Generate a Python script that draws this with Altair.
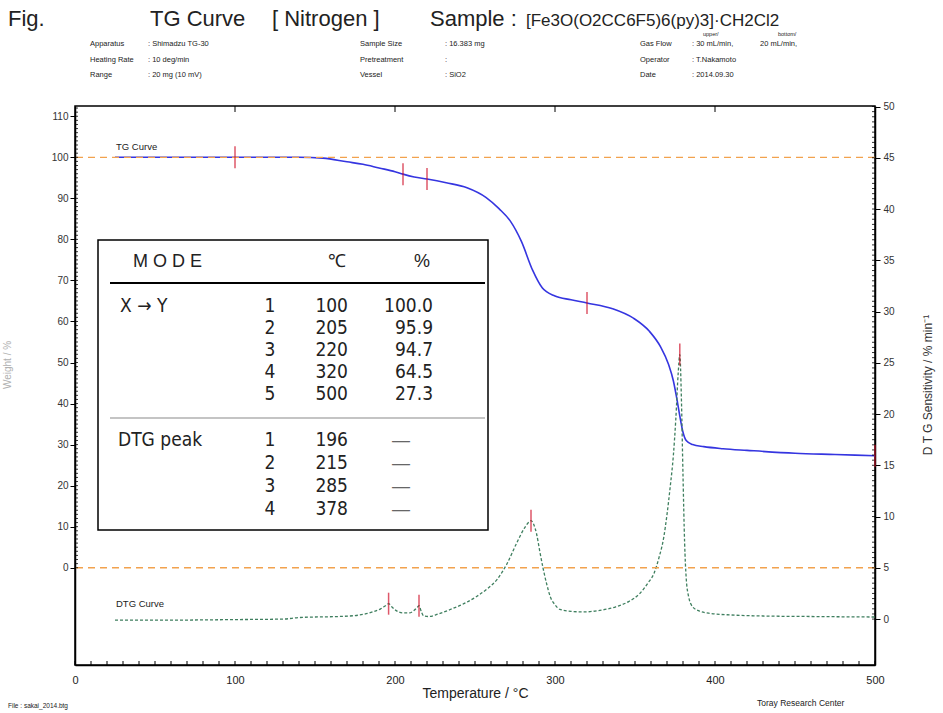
import altair as alt
import pandas as pd

# ---------------- data ----------------
tg_temp = [25, 60, 100, 140, 155, 170, 180, 190, 200, 205, 212, 220, 232, 245, 257, 265, 272, 279, 286, 292,
           300, 310, 320, 336, 349, 359, 366, 371, 374, 376, 378, 380, 382, 386, 393, 405, 420, 450, 475, 500]
tg_pct = [100, 100, 100, 100, 99.8, 98.9, 98.3, 97.4, 96.5, 95.9, 95.2, 94.7, 93.8, 92.6, 90.2, 87.5, 84.5, 79.5, 72.5, 68.2,
          66.2, 65.3, 64.5, 63.1, 60.8, 57.6, 53.8, 49.5, 45.5, 41.5, 37.0, 33.0, 31.0, 30.0, 29.5, 29.0, 28.6, 27.9, 27.6, 27.3]

dtg_temp = [25, 60, 100, 130, 140, 150, 165, 178, 186, 191, 194, 196, 198, 201, 205, 209, 212, 214, 215, 216.5,
            218, 221, 227, 234, 243, 251, 258, 264, 270, 276, 281, 284, 285, 286.5, 288.5, 290.5, 292.5, 295, 297, 300,
            303, 310, 318, 328, 338, 346, 353, 358, 362, 365, 368, 370, 372, 374, 375.5, 377, 378, 379, 380, 381,
            382, 383.5, 386, 390, 397, 410, 430, 460, 500]
dtg_val = [-0.1, -0.1, -0.05, 0.0, 0.15, 0.2, 0.25, 0.4, 0.7, 1.0, 1.3, 1.5, 1.2, 0.8, 0.6, 0.6, 0.85, 1.15, 1.3, 0.7,
           0.3, 0.25, 0.5, 0.9, 1.5, 2.2, 3.0, 3.9, 5.4, 7.4, 8.9, 9.5, 9.6, 9.3, 8.3, 6.6, 5.0, 3.3, 2.2, 1.4,
           0.95, 0.75, 0.7, 0.85, 1.2, 1.7, 2.5, 3.5, 4.5, 6.0, 8.0, 10.2, 12.9, 16.0, 19.5, 24.0, 25.8, 21.5, 14.0, 7.5,
           4.0, 2.2, 1.2, 0.8, 0.55, 0.4, 0.3, 0.25, 0.2]

mode_idx = [1, 2, 3, 4, 5]
mode_temp = [100, 205, 220, 320, 500]
mode_pct = [100.0, 95.9, 94.7, 64.5, 27.3]

peak_idx = [1, 2, 3, 4]
peak_temp = [196, 215, 285, 378]
peak_dtg = [1.5, 1.3, 9.6, 25.8]

x_ticks = [0, 100, 200, 300, 400, 500]
left_ticks = [0, 10, 20, 30, 40, 50, 60, 70, 80, 90, 100, 110]
right_ticks = [0, 5, 10, 15, 20, 25, 30, 35, 40, 45, 50]
ref_lines = [100, 0]

x_minor = list(range(0, 501, 10))
left_minor = list(range(0, 113))
right_minor = [i / 2 for i in range(0, 101)]

info_left = [("Apparatus", ": Shimadzu TG-30"), ("Heating Rate", ": 10 deg/min"), ("Range", ": 20 mg (10 mV)")]
info_mid = [("Sample Size", ": 16.383 mg"), ("Pretreatment", ":"), ("Vessel", ": SiO2")]
info_right = [("Gas Flow", ": 30 mL/min,"), ("Operator", ": T.Nakamoto"), ("Date", ": 2014.09.30")]

# ---------------- layout ----------------
X0, Y0, W, H = 75, 106, 800, 559
FONT = "Liberation Sans"
NARROW = "Liberation Sans Narrow, DejaVu Sans Condensed, Liberation Sans"
XS = alt.Scale(domain=[0, 500], nice=False, zero=False)
LEFT = alt.Scale(domain=[-23.7, 112.5], nice=False, zero=False)
RIGHT = alt.Scale(domain=[-4.48, 50.05], nice=False, zero=False)

x_axis = alt.Axis(orient="bottom", values=x_ticks, title="Temperature / °C", ticks=False, labelPadding=9,
                  labelFlush=False, labelFontSize=11, titleFontSize=14, titlePadding=1, grid=False,
                  domainColor="black", domainWidth=1.5, labelColor="#222", titleColor="#222",
                  titleFontWeight="normal", labelFont=FONT, titleFont=FONT)
left_axis = alt.Axis(orient="left", values=left_ticks, title="", tickSize=5, labelPadding=2, labelFontSize=10,
                     labelFlush=False, grid=False, domainColor="black", domainWidth=1.5, tickColor="black",
                     labelColor="#333", labelFont=FONT)
right_axis = alt.Axis(orient="right", values=right_ticks, title="", tickSize=5, labelPadding=3, labelFontSize=10,
                      labelFlush=False, grid=False, domainColor="black", domainWidth=1.5, tickColor="black",
                      labelColor="#333", labelFont=FONT)

ONE = alt.Data(values=[{}])


def xenc():
    return alt.X("t:Q", scale=XS, axis=x_axis)


def txt(s, x, y, size, align="left", baseline="middle", font=FONT, color="#222", angle=0, weight="normal",
        line_height=0):
    kw = dict(text=s, align=align, baseline=baseline, fontSize=size, font=font, color=color, fontWeight=weight)
    if angle:
        kw["angle"] = angle
    if line_height:
        kw["lineHeight"] = line_height
        kw["lineBreak"] = "\n"
    return alt.Chart(ONE).mark_text(**kw).encode(x=alt.value(x - X0), y=alt.value(y - Y0))


def hline(x1, x2, y, color, width):
    return alt.Chart(ONE).mark_rule(color=color, strokeWidth=width).encode(
        x=alt.value(x1 - X0), x2=alt.value(x2 - X0), y=alt.value(y - Y0))


tg_df = pd.DataFrame({"t": tg_temp, "v": tg_pct})
dtg_df = pd.DataFrame({"t": dtg_temp, "v": dtg_val})

layers = []
# TG curve (left axis)
layers.append(alt.Chart(tg_df).mark_line(color="#3535e0", strokeWidth=1.6, interpolate="monotone").encode(
    x=xenc(), y=alt.Y("v:Q", scale=LEFT, axis=left_axis)))
# DTG curve (right axis)
layers.append(alt.Chart(dtg_df).mark_line(color="#3f7f5f", strokeWidth=1.3, strokeDash=[3, 2],
                                          interpolate="monotone").encode(
    x=xenc(), y=alt.Y("v:Q", scale=RIGHT, axis=right_axis)))
# reference dashed lines
layers.append(alt.Chart(pd.DataFrame({"v": ref_lines})).mark_rule(color="#f2a24e", strokeWidth=1.3,
                                                                 strokeDash=[7, 5]).encode(
    y=alt.Y("v:Q", scale=LEFT, axis=None)))
# minor ticks
layers.append(alt.Chart(pd.DataFrame({"t": x_minor})).mark_rule(color="black", strokeWidth=1).encode(
    x=xenc(), y=alt.value(H), y2=alt.value(H - 4)))
layers.append(alt.Chart(pd.DataFrame({"t": x_ticks[1:-1]})).mark_rule(color="black", strokeWidth=1).encode(
    x=xenc(), y=alt.value(0), y2=alt.value(6)))
layers.append(alt.Chart(pd.DataFrame({"v": left_minor})).mark_rule(color="black", strokeWidth=0.8).encode(
    y=alt.Y("v:Q", scale=LEFT, axis=None), x=alt.value(0), x2=alt.value(3)))
layers.append(alt.Chart(pd.DataFrame({"v": right_minor})).mark_rule(color="black", strokeWidth=0.8).encode(
    y=alt.Y("v:Q", scale=RIGHT, axis=None), x=alt.value(W - 3), x2=alt.value(W)))
# markers
layers.append(alt.Chart(pd.DataFrame({"t": mode_temp, "v": mode_pct})).mark_tick(
    color="#d0102a", thickness=1.5, size=22, orient="vertical").encode(
    x=xenc(), y=alt.Y("v:Q", scale=LEFT, axis=None)))
layers.append(alt.Chart(pd.DataFrame({"t": peak_temp, "v": peak_dtg})).mark_tick(
    color="#d0102a", thickness=1.5, size=22, orient="vertical").encode(
    x=xenc(), y=alt.Y("v:Q", scale=RIGHT, axis=None)))

# curve labels
layers.append(txt("TG Curve", 116, 147, 9.5))
layers.append(txt("DTG Curve", 116, 604, 9.5))

# table
layers.append(alt.Chart(ONE).mark_rect(fill="white", stroke="black", strokeWidth=1.5).encode(
    x=alt.value(98 - X0), x2=alt.value(488 - X0), y=alt.value(240 - Y0), y2=alt.value(530 - Y0)))
layers.append(hline(110, 485, 283, "black", 2))
layers.append(hline(110, 485, 418, "#c4c4c4", 2))
layers.append(txt("M O D E", 133, 262, 18))
layers.append(txt("℃", 337, 262, 18, align="center"))
layers.append(txt("%", 422, 262, 18, align="center"))
TL = 22
FS = 19
layers.append(txt("X → Y", 120, 312, FS, baseline="alphabetic", font=NARROW))
layers.append(txt("\n".join(str(i) for i in mode_idx), 270, 312, FS, align="center", baseline="alphabetic",
                  font=NARROW, line_height=TL))
layers.append(txt("\n".join(str(t) for t in mode_temp), 348, 312, FS, align="right", baseline="alphabetic",
                  font=NARROW, line_height=TL))
layers.append(txt("\n".join(f"{p:.1f}" for p in mode_pct), 433, 312, FS, align="right", baseline="alphabetic",
                  font=NARROW, line_height=TL))
TL2 = 23
layers.append(txt("DTG peak", 118, 446, FS, baseline="alphabetic", font=NARROW))
layers.append(txt("\n".join(str(i) for i in peak_idx), 270, 446, FS, align="center", baseline="alphabetic",
                  font=NARROW, line_height=TL2))
layers.append(txt("\n".join(str(t) for t in peak_temp), 348, 446, FS, align="right", baseline="alphabetic",
                  font=NARROW, line_height=TL2))
layers.append(txt("\n".join("—" for _ in peak_idx), 401, 446, 18, align="center", baseline="alphabetic",
                  color="#666", line_height=TL2))

# header
layers.append(txt("Fig.", 8, 19, 22))
layers.append(txt("TG Curve", 150, 19, 22))
layers.append(txt("[ Nitrogen ]", 272, 19, 22))
layers.append(txt("Sample :", 430, 19, 22))
layers.append(txt("[Fe3O(O2CC6F5)6(py)3]·CH2Cl2", 526, 21, 17))
for i, (a, b) in enumerate(info_left):
    layers.append(txt(a, 90, 44 + 15.5 * i, 7.5))
    layers.append(txt(b, 148, 44 + 15.5 * i, 7.5))
for i, (a, b) in enumerate(info_mid):
    layers.append(txt(a, 360, 44 + 15.5 * i, 7.5))
    layers.append(txt(b, 445, 44 + 15.5 * i, 7.5))
for i, (a, b) in enumerate(info_right):
    layers.append(txt(a, 640, 44 + 15.5 * i, 7.5))
    layers.append(txt(b, 692, 44 + 15.5 * i, 7.5))
layers.append(txt("20 mL/min,", 760, 44, 7.5))
layers.append(txt("upper/", 703, 34, 5.5))
layers.append(txt("bottom/", 778, 34, 5.5))

# axis titles and footer
layers.append(txt("D  T  G     Sensitivity     /     %  min⁻¹", 928, 385, 12, align="center", angle=270,
                  color="#333"))
layers.append(txt("Weight  /  %", 8, 365, 10, align="center", angle=270, color="#b0b0b0"))
layers.append(txt("File : sakai_2014.btg", 8, 706, 6.5))
layers.append(txt("Toray Research Center", 757, 703, 8.5))

chart = alt.layer(*layers).resolve_scale(y="independent").properties(
    width=W, height=H, autosize="none",
    padding={"left": X0, "top": Y0, "right": 943 - X0 - W, "bottom": 713 - Y0 - H},
).configure(font=FONT).configure_view(stroke="black", strokeWidth=1.5)

chart.save("out.html", embed_options={"renderer": "svg", "actions": False})
